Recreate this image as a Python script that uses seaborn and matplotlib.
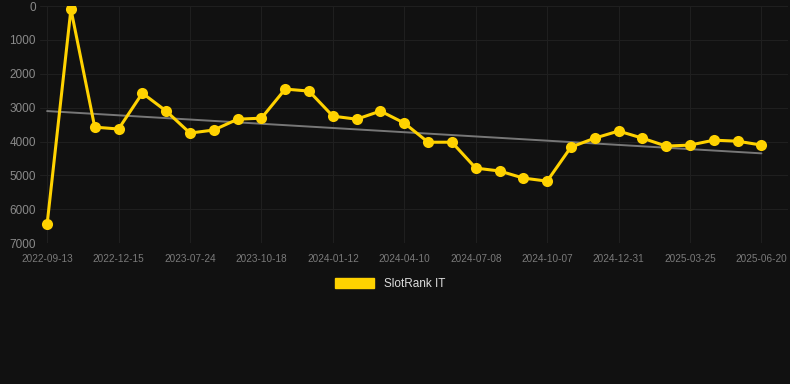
import numpy as np
import pandas as pd
import seaborn as sns
import matplotlib.pyplot as plt
from matplotlib.patches import Patch

# dates of the rank snapshots (every third one is labelled on the axis)
dates = ['2022-09-13', '2022-10-14', '2022-11-15', '2022-12-15', '2023-03-01',
         '2023-05-10', '2023-07-24', '2023-08-21', '2023-09-19', '2023-10-18',
         '2023-11-15', '2023-12-14', '2024-01-12', '2024-02-11', '2024-03-11',
         '2024-04-10', '2024-05-10', '2024-06-08', '2024-07-08', '2024-08-07',
         '2024-09-06', '2024-10-07', '2024-11-04', '2024-12-02', '2024-12-31',
         '2025-01-28', '2025-02-25', '2025-03-25', '2025-04-23', '2025-05-22',
         '2025-06-20']
rank_it = [6440, 90, 3575, 3630, 2570, 3100, 3750, 3660, 3340, 3310,
           2450, 2510, 3250, 3340, 3100, 3455, 4020, 4020, 4785, 4870,
           5080, 5170, 4165, 3900, 3690, 3900, 4135, 4105, 3960, 3990,
           4105]
series_name = 'SlotRank IT'
y_ticks = [0, 1000, 2000, 3000, 4000, 5000, 6000, 7000]

bg = '#111111'
gold = '#FFD200'

df = pd.DataFrame({'pos': np.arange(len(dates)), 'date': dates, 'rank': rank_it})

sns.set_theme(style='dark')
plt.rcParams['font.family'] = ['Liberation Sans', 'DejaVu Sans']
fig = plt.figure(figsize=(7.9, 3.84), dpi=100, facecolor=bg)
ax = fig.add_axes([0.0506, 0.367, 0.9464, 0.617])
ax.set_facecolor(bg)

# trend line (linear fit)
sns.regplot(data=df, x='pos', y='rank', scatter=False, ci=None, ax=ax,
            line_kws={'color': '#777777', 'lw': 1.4, 'zorder': 2})
sns.lineplot(data=df, x='pos', y='rank', ax=ax, color=gold, lw=2.2,
             marker='o', markersize=8, markeredgewidth=0, sort=False, zorder=3)

ax.set_ylim(7000, 0)
ax.set_yticks(y_ticks)
ax.set_yticklabels([str(v) for v in y_ticks])
ax.set_xlim(-0.3, 31.1)
ax.set_xticks(df['pos'][::3])
ax.set_xticklabels(df['date'][::3])

ax.grid(True, color='#1f1f1f', lw=0.8)
for s in ax.spines.values():
    s.set_visible(False)
ax.tick_params(axis='y', colors='#8a8a8a', labelsize=8.5, length=0, pad=3)
ax.tick_params(axis='x', colors='#7a7a7a', labelsize=7.2, length=0, pad=8)
ax.set_xlabel('')
ax.set_ylabel('')

fig.legend(handles=[Patch(facecolor=gold, edgecolor=gold, label=series_name)],
           loc='center', bbox_to_anchor=(0.494, 0.26), frameon=False,
           handlelength=3.3, handleheight=0.9, fontsize=8.5, labelcolor='#dddddd')

fig.savefig('out.png', dpi=100, facecolor=bg)
